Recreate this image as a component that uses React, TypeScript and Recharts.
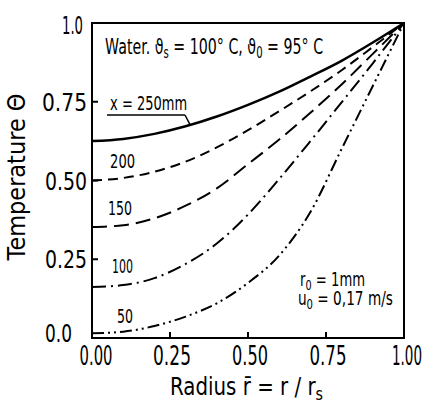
import React from "react";
import { LineChart, Line, XAxis, YAxis, ReferenceArea, ReferenceDot, ReferenceLine, Label } from "recharts";

const radius = [0, 0.1, 0.2, 0.3, 0.4, 0.5, 0.6, 0.7, 0.8, 0.9, 1.0];
const theta250 = [0.625, 0.632, 0.648, 0.672, 0.703, 0.74, 0.782, 0.83, 0.88, 0.938, 1.0];
const theta200 = [0.5, 0.508, 0.528, 0.56, 0.605, 0.66, 0.72, 0.783, 0.85, 0.924, 1.0];
const theta150 = [0.352, 0.358, 0.38, 0.42, 0.475, 0.552, 0.63, 0.715, 0.805, 0.902, 1.0];
const theta100 = [0.162, 0.168, 0.19, 0.235, 0.3, 0.392, 0.505, 0.625, 0.748, 0.872, 1.0];
const theta50 = [0.015, 0.02, 0.038, 0.068, 0.11, 0.175, 0.262, 0.4, 0.6, 0.8, 1.0];

const xTicks = [0, 0.25, 0.5, 0.75, 1];
const xTickLabels = ["0.00", "0.25", "0.50", "0.75", "1.00"];
const yTicks = [0, 0.25, 0.5, 0.75, 1];
const yTickLabels = ["0.0", "0.25", "0.50", "0.75", "1.0"];

const data = radius.map((r, i) => ({
  r,
  t250: theta250[i],
  t200: theta200[i],
  t150: theta150[i],
  t100: theta100[i],
  t50: theta50[i],
}));

const FONT = "'DejaVu Sans', sans-serif";
const LA = "spacingAndGlyphs";

const xLabelWidths = [33, 38, 36, 37, 30];
const xLabelShift = [4, 2, 2, 2, 3];
const yLabelWidths = [27, 42, 42, 45, 21];

const XTick = (props: any) => {
  const { x, y, index } = props;
  const inner = index > 0 && index < xTicks.length - 1;
  return (
    <g>
      {inner && <line x1={x} y1={y} x2={x} y2={y - 6} stroke="#000" strokeWidth={2} />}
      <text
        x={x + xLabelShift[index]}
        y={y + 27}
        textAnchor="middle"
        fontSize={27}
        fontFamily={FONT}
        fill="#000"
        textLength={xLabelWidths[index]}
        lengthAdjust={LA}
      >
        {xTickLabels[index]}
      </text>
    </g>
  );
};

const YTick = (props: any) => {
  const { x, y, index } = props;
  const inner = index > 0 && index < yTicks.length - 1;
  const isZero = index === 0;
  const isOne = index === yTicks.length - 1;
  return (
    <g>
      {inner && <line x1={x} y1={y} x2={x + 6} y2={y} stroke="#000" strokeWidth={2} />}
      <text
        x={isZero ? x - 20 : isOne ? x - 9 : x - 5}
        y={isZero ? y + 4 : isOne ? y + 11 : y + 9}
        textAnchor="end"
        fontSize={24}
        fontFamily={FONT}
        fill="#000"
        textLength={yLabelWidths[index]}
        lengthAdjust={LA}
      >
        {yTickLabels[index]}
      </text>
    </g>
  );
};

const textShape = (content: React.ReactNode, size: number, len: number) => (p: any) => (
  <text x={p.cx} y={p.cy} fontSize={size} fontFamily={FONT} fill="#000" textLength={len} lengthAdjust={LA}>
    {content}
  </text>
);

export default function App() {
  return (
    <div style={{ position: "absolute", left: 0, top: 0, width: 423, height: 402, background: "#fff" }}>
      <LineChart width={423} height={402} data={data} margin={{ top: 23, right: 19, bottom: 0, left: 0 }}>
        <XAxis
          type="number"
          dataKey="r"
          domain={[0, 1]}
          ticks={xTicks}
          tick={<XTick />}
          tickLine={false}
          tickSize={0}
          tickMargin={0}
          axisLine={false}
          height={64}
          interval={0}
        >
          <Label
            content={() => (
              <text x={170} y={395} fontSize={25} fontFamily={FONT} fill="#000" textLength={153} lengthAdjust={LA}>
                Radius r̄ = r / r
                <tspan fontSize={18} dy={5}>s</tspan>
              </text>
            )}
          />
        </XAxis>
        <YAxis
          type="number"
          domain={[0, 1]}
          ticks={yTicks}
          tick={<YTick />}
          tickLine={false}
          tickSize={0}
          tickMargin={0}
          axisLine={false}
          width={92}
          interval={0}
        >
          <Label
            content={() => (
              <text
                x={25}
                y={177}
                transform="rotate(-90 25 177)"
                textAnchor="middle"
                fontSize={24}
                fontFamily={FONT}
                fill="#000"
                textLength={167}
                lengthAdjust={LA}
              >
                Temperature Θ
              </text>
            )}
          />
        </YAxis>
        <ReferenceArea x1={0} x2={1} y1={0} y2={1} fill="none" stroke="#000" strokeWidth={2} ifOverflow="visible" />
        <Line type="monotone" dataKey="t250" stroke="#000" strokeWidth={2.5} dot={false} isAnimationActive={false} />
        <Line type="monotone" dataKey="t200" stroke="#000" strokeWidth={2} strokeDasharray="10 6" dot={false} isAnimationActive={false} />
        <Line type="monotone" dataKey="t150" stroke="#000" strokeWidth={2} strokeDasharray="15 7" dot={false} isAnimationActive={false} />
        <Line type="monotone" dataKey="t100" stroke="#000" strokeWidth={2} strokeDasharray="14 5 2 5" dot={false} isAnimationActive={false} />
        <Line type="monotone" dataKey="t50" stroke="#000" strokeWidth={2} strokeDasharray="12 4 2 4 2 4" dot={false} isAnimationActive={false} />
        <ReferenceLine segment={[{ x: 0.048, y: 0.708 }, { x: 0.298, y: 0.708 }]} stroke="#000" strokeWidth={1.5} ifOverflow="visible" />
        <ReferenceLine segment={[{ x: 0.298, y: 0.708 }, { x: 0.315, y: 0.676 }]} stroke="#000" strokeWidth={1.5} ifOverflow="visible" />
        <ReferenceDot
          x={0.042}
          y={0.902}
          r={0}
          ifOverflow="visible"
          shape={textShape(
            <>
              Water. ϑ<tspan fontSize={15} dy={4}>s</tspan>
              <tspan dy={-4}> = 100° C, ϑ</tspan>
              <tspan fontSize={15} dy={4}>0</tspan>
              <tspan dy={-4}> = 95° C</tspan>
            </>,
            21,
            218
          )}
        />
        <ReferenceDot x={0.058} y={0.724} r={0} ifOverflow="visible" shape={textShape("x = 250mm", 19, 77)} />
        <ReferenceDot x={0.058} y={0.54} r={0} ifOverflow="visible" shape={textShape("200", 19, 25)} />
        <ReferenceDot x={0.051} y={0.39} r={0} ifOverflow="visible" shape={textShape("150", 19, 24)} />
        <ReferenceDot x={0.064} y={0.206} r={0} ifOverflow="visible" shape={textShape("100", 19, 21)} />
        <ReferenceDot x={0.08} y={0.048} r={0} ifOverflow="visible" shape={textShape("50", 19, 16)} />
        <ReferenceDot
          x={0.667}
          y={0.165}
          r={0}
          ifOverflow="visible"
          shape={textShape(
            <>
              r<tspan fontSize={14} dy={4}>0</tspan>
              <tspan dy={-4}> = 1mm</tspan>
            </>,
            19,
            65
          )}
        />
        <ReferenceDot
          x={0.66}
          y={0.105}
          r={0}
          ifOverflow="visible"
          shape={textShape(
            <>
              u<tspan fontSize={14} dy={4}>0</tspan>
              <tspan dy={-4}> = 0,17 m/s</tspan>
            </>,
            19,
            95
          )}
        />
      </LineChart>
    </div>
  );
}
